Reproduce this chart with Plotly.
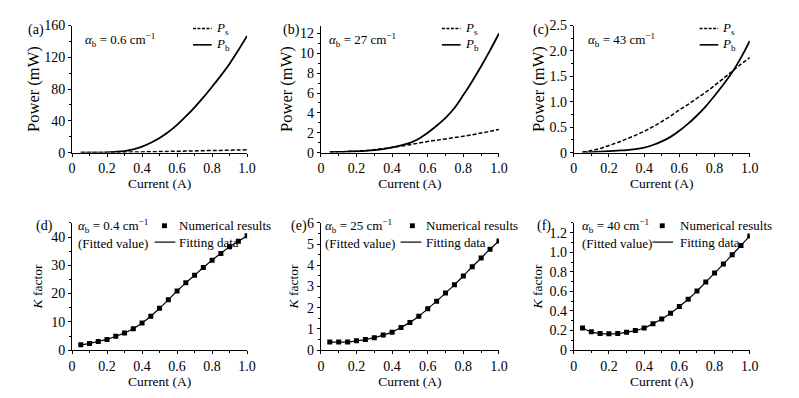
import plotly.graph_objects as go

# ---------------- data ----------------
current = [0.05, 0.10, 0.15, 0.20, 0.25, 0.30, 0.35, 0.40, 0.45, 0.50,
           0.55, 0.60, 0.65, 0.70, 0.75, 0.80, 0.85, 0.90, 0.95, 1.00]

a_Ps = [0.05, 0.1, 0.2, 0.3, 0.4, 0.6, 0.7, 0.9, 1.1, 1.3,
        1.5, 1.7, 1.9, 2.1, 2.4, 2.6, 2.8, 3.0, 3.3, 3.5]
a_Pb = [0.0, 0.0, 0.1, 0.4, 1.0, 2.0, 4.0, 7.5, 12.5, 18.5,
        26, 35, 45.5, 57, 69.5, 83, 97, 112, 129, 147]

b_Ps = [0.05, 0.08, 0.11, 0.15, 0.2, 0.3, 0.4, 0.52, 0.66, 0.8,
        0.96, 1.12, 1.25, 1.38, 1.52, 1.65, 1.8, 1.97, 2.15, 2.33]
b_Pb = [0.05, 0.07, 0.1, 0.13, 0.18, 0.25, 0.36, 0.52, 0.72, 0.98,
        1.4, 2.0, 2.7, 3.5, 4.5, 5.8, 7.2, 8.7, 10.3, 12.0]

c_Ps = [0.01, 0.04, 0.08, 0.14, 0.2, 0.27, 0.34, 0.42, 0.51, 0.61,
        0.72, 0.84, 0.95, 1.07, 1.19, 1.32, 1.46, 1.6, 1.74, 1.87]
c_Pb = [0.0, 0.01, 0.02, 0.03, 0.04, 0.05, 0.07, 0.1, 0.15, 0.22,
        0.31, 0.43, 0.57, 0.73, 0.91, 1.12, 1.34, 1.58, 1.87, 2.2]

d_K = [1.9, 2.4, 3.1, 3.8, 4.9, 6.1, 7.6, 9.6, 12.0, 14.8,
       17.8, 20.9, 23.8, 26.5, 29.2, 31.8, 34.2, 36.6, 38.5, 40.4]
e_K = [0.38, 0.38, 0.38, 0.44, 0.50, 0.59, 0.71, 0.85, 1.07, 1.31,
       1.60, 1.95, 2.31, 2.69, 3.08, 3.50, 3.93, 4.34, 4.76, 5.15]
f_K = [0.226, 0.187, 0.170, 0.167, 0.170, 0.184, 0.200, 0.226, 0.270, 0.318,
       0.377, 0.446, 0.520, 0.603, 0.695, 0.787, 0.879, 0.974, 1.069, 1.167]

x_tickvals = [0, 0.2, 0.4, 0.6, 0.8, 1.0]
x_ticktext = ["0", "0.2", "0.4", "0.6", "0.8", "1.0"]
a_ytick = [0, 40, 80, 120, 160]
b_ytick = [0, 2, 4, 6, 8, 10, 12]
c_ytick = [0, 0.5, 1.0, 1.5, 2.0, 2.5]
c_yticktext = ["0", "0.5", "1.0", "1.5", "2.0", "2.5"]
d_ytick = [0, 10, 20, 30, 40]
e_ytick = [0, 1, 2, 3, 4, 5, 6]
f_ytick = [0, 0.2, 0.4, 0.6, 0.8, 1.0, 1.2]
f_yticktext = ["0", "0.2", "0.4", "0.6", "0.8", "1.0", "1.2"]

panel_labels = ["(a)", "(b)", "(c)", "(d)", "(e)", "(f)"]
alpha_vals = ["0.6", "27", "43", "0.4", "25", "40"]

# ---------------- layout helpers ----------------
W, H = 799, 398
OX, OY = 8, 8   # page body margin offset
FONT = '"Liberation Serif", "Times New Roman", Times, serif'


def px(x):
    return (x - OX) / W


def py(y):
    return 1 - (y - OY) / H


col_dom = [(69, 247), (322, 503), (579, 758)]
row_dom = [(19, 151), (224, 356.3)]

fig = go.Figure()

panels = [
    dict(series=[(a_Ps, "dash"), (a_Pb, "solid")], yr=[0, 160], yt=a_ytick, ytt=[str(v) for v in a_ytick], minor=20, title="Power (mW)", so=0),
    dict(series=[(b_Ps, "dash"), (b_Pb, "solid")], yr=[0, 12.8], yt=b_ytick, ytt=[str(v) for v in b_ytick], minor=1, title="Power (mW)", so=3),
    dict(series=[(c_Ps, "dash"), (c_Pb, "solid")], yr=[0, 2.5], yt=c_ytick, ytt=c_yticktext, minor=0.25, title="Power (mW)", so=0),
    dict(K=d_K, yr=[0, 45], yt=d_ytick, ytt=[str(v) for v in d_ytick], minor=5, title="<i>K</i> factor", so=5),
    dict(K=e_K, yr=[0, 6], yt=e_ytick, ytt=[str(v) for v in e_ytick], minor=0.5, title="<i>K</i> factor", so=5),
    dict(K=f_K, yr=[0, 1.3], yt=f_ytick, ytt=f_yticktext, minor=0.1, title="<i>K</i> factor", so=3),
]

tickfont = dict(family=FONT, size=14, color="black")
titlefont = dict(family=FONT, size=13.5, color="black")
powfont = dict(family=FONT, size=16.5, color="black")
annfont = dict(family=FONT, size=13, color="black")
labfont = dict(family=FONT, size=14, color="black")

annotations = []
shapes = []

for i, p in enumerate(panels):
    r, c = divmod(i, 3)
    n = i + 1
    xa = "x" if n == 1 else f"x{n}"
    ya = "y" if n == 1 else f"y{n}"
    xd = col_dom[c]
    yd = row_dom[r]
    if "series" in p:
        for vals, dash in p["series"]:
            fig.add_trace(go.Scatter(x=current, y=vals, mode="lines", xaxis=xa, yaxis=ya,
                                     line=dict(color="black", width=1.8 if dash == "solid" else 1.5,
                                               dash="4px,2px" if dash == "dash" else "solid", shape="spline"),
                                     showlegend=False))
    else:
        fig.add_trace(go.Scatter(x=current, y=p["K"], mode="lines", xaxis=xa, yaxis=ya,
                                 line=dict(color="black", width=1.2, shape="spline"), showlegend=False))
        fig.add_trace(go.Scatter(x=current, y=p["K"], mode="markers", xaxis=xa, yaxis=ya,
                                 marker=dict(symbol="square", size=5, color="black"), showlegend=False))

    common = dict(showline=True, linecolor="black", linewidth=1, ticks="outside", ticklen=3,
                  tickwidth=1, tickcolor="black", showgrid=False, zeroline=False, tickfont=tickfont)
    xkey = "xaxis" if n == 1 else f"xaxis{n}"
    ykey = "yaxis" if n == 1 else f"yaxis{n}"
    fig.update_layout({
        xkey: dict(domain=[px(xd[0]), px(xd[1])], range=[0, 1.0], anchor=ya,
                   tickmode="array", tickvals=x_tickvals, ticktext=x_ticktext,
                   minor=dict(ticks="outside", ticklen=2, tickmode="linear", tick0=0, dtick=0.1, tickcolor="black"),
                   title=dict(text="Current (A)", font=titlefont, standoff=1 if r == 0 else 0), **common),
        ykey: dict(domain=[py(yd[1]), py(yd[0])], range=p["yr"], anchor=xa,
                   tickmode="array", tickvals=p["yt"], ticktext=p["ytt"],
                   minor=dict(ticks="outside", ticklen=2, tickmode="linear", tick0=0, dtick=p["minor"], tickcolor="black"),
                   title=dict(text=p["title"], font=powfont if r == 0 else titlefont, standoff=p["so"]), **common),
    })

    # panel label
    label_x = [22, 281, 536, 30, 290, 540][i]
    label_y = 24 if r == 0 else 227
    annotations.append(dict(x=px(label_x), y=py(label_y), xref="paper", yref="paper", text=panel_labels[i],
                            showarrow=False, xanchor="left", yanchor="middle", font=labfont))
    # alpha text
    if r == 0:
        ax = [80, 328, 591][c]
        annotations.append(dict(x=px(ax), y=py(34), xref="paper", yref="paper",
                                text=f"<i>α</i><sub>b</sub> = {alpha_vals[i]} cm<sup>−1</sup>",
                                showarrow=False, xanchor="left", yanchor="middle", font=annfont))
        lx0 = [192, 445, 707][c]
        for k, (txt, dash, yy) in enumerate([("s", "dash", 22), ("b", "solid", 39)]):
            shapes.append(dict(type="line", xref="paper", yref="paper", x0=px(lx0), x1=px(lx0 + 19),
                               y0=py(yy), y1=py(yy), line=dict(color="black", width=1.6 if dash == "solid" else 1.5, dash="3px,1.5px" if dash == "dash" else "solid")))
            annotations.append(dict(x=px(lx0 + 21), y=py(yy), xref="paper", yref="paper",
                                    text=f"<i>P</i><sub>{txt}</sub>", showarrow=False,
                                    xanchor="left", yanchor="middle", font=annfont))
    else:
        ax = [73, 324, 585][c]
        annotations.append(dict(x=px(ax), y=py(227), xref="paper", yref="paper",
                                text=f"<i>α</i><sub>b</sub> = {alpha_vals[i]} cm<sup>−1</sup>",
                                showarrow=False, xanchor="left", yanchor="middle", font=annfont))
        annotations.append(dict(x=px(ax), y=py(245), xref="paper", yref="paper", text="(Fitted value)",
                                showarrow=False, xanchor="left", yanchor="middle", font=annfont))
        mx = [163, 415, 669][c]
        tx = [176, 427, 685][c]
        lx = [153, 403, 659][c]
        shapes.append(dict(type="rect", xref="paper", yref="paper", x0=px(mx - 2.5), x1=px(mx + 2.5),
                           y0=py(227 + 2.5), y1=py(227 - 2.5), fillcolor="black", line=dict(width=0)))
        annotations.append(dict(x=px(tx), y=py(227), xref="paper", yref="paper", text="Numerical results",
                                showarrow=False, xanchor="left", yanchor="middle", font=annfont))
        shapes.append(dict(type="line", xref="paper", yref="paper", x0=px(lx), x1=px(lx + 21),
                           y0=py(244), y1=py(244), line=dict(color="black", width=1.2)))
        annotations.append(dict(x=px(tx), y=py(244), xref="paper", yref="paper", text="Fitting data",
                                showarrow=False, xanchor="left", yanchor="middle", font=annfont))

fig.update_layout(width=W, height=H, margin=dict(l=0, r=0, t=0, b=0),
                  paper_bgcolor="white", plot_bgcolor="white",
                  font=dict(family=FONT, size=14, color="black"),
                  annotations=annotations, shapes=shapes, showlegend=False)

fig.write_html("out.html")
